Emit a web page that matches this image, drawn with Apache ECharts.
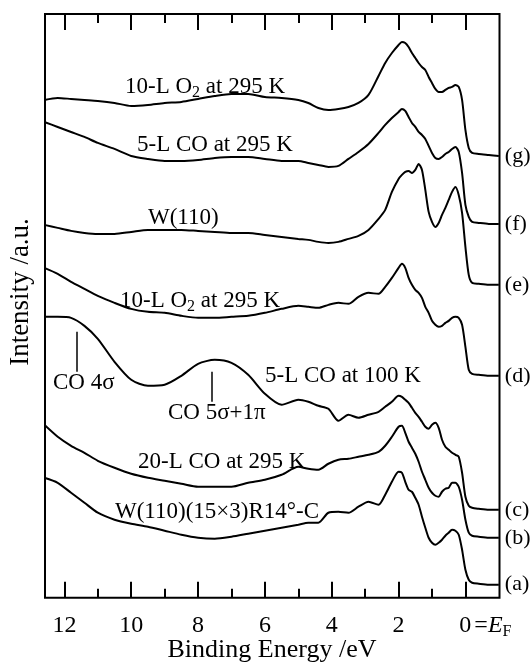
<!DOCTYPE html>
<html>
<head>
<meta charset="utf-8">
<script src="https://cdn.jsdelivr.net/npm/echarts@6/dist/echarts.min.js"></script>
<style>
  html, body { margin: 0; padding: 0; background: #fff; }
  #chart { width: 532px; height: 665px; }
</style>
</head>
<body>
<div id="chart"></div>
<script>
// binding energy (eV), shared by all spectra
var energy = [12.6, 12.2, 11.8, 11.4, 11.0, 10.5, 10.0, 9.5, 9.0, 8.5, 8.0, 7.5, 7.0, 6.5, 6.0, 5.5, 5.0,
    4.7, 4.4, 4.1, 3.8, 3.5, 3.2, 2.9, 2.6, 2.4, 2.2,
    2.0, 1.9, 1.8, 1.7, 1.6, 1.5, 1.4, 1.3, 1.2, 1.1, 1.0, 0.9, 0.8, 0.7, 0.6, 0.5, 0.4, 0.3, 0.2, 0.1, 0.0,
    -0.1, -0.2, -0.4, -0.7, -1.0];

// intensities (a.u., offset spectra)
var specG = [498, 500, 499, 498, 497, 495, 492, 493, 495, 496, 499, 502, 504, 504, 501, 500, 498,
    495, 490, 488, 489, 491, 495, 503, 522, 535, 545,
    553, 556, 555, 551, 545, 540, 535, 531, 528, 521, 515, 509, 506, 506, 508, 510, 511, 513, 511, 498, 468,
    450, 445, 444, 443, 442];
var specF = [476, 471, 466, 461, 455, 449, 442, 439, 437, 437, 438, 440, 441, 441, 439, 437, 437,
    435, 433, 431, 432, 439, 446, 454, 465, 473, 480,
    486, 489, 487, 481, 475, 471, 466, 463, 459, 452, 445, 440, 439, 441, 444, 446, 449, 451, 446, 425, 393,
    381, 376, 375, 374, 374];
var specE = [373, 370, 367, 365, 364, 364, 366, 368, 368, 368, 367, 366, 365, 365, 363, 361, 359,
    358, 356, 355, 356, 359, 362, 368, 379, 388, 406,
    419, 423, 426, 427, 425, 428, 434, 428, 408, 386, 376, 371, 375, 383, 390, 398, 406, 411, 403, 385, 351,
    323, 315, 314, 313, 313];
var specD = [330, 324, 316, 309, 302, 295, 289, 286, 285, 282, 280, 280, 281, 282, 285, 289, 292,
    291, 290, 293, 295, 294, 301, 305, 304, 311, 320,
    330, 334, 330, 320, 313, 308, 305, 300, 291, 285, 277, 273, 271, 272, 275, 277, 280, 281, 280, 273, 251,
    228, 224, 223, 222, 222];
var specC = [281, 281, 280, 272, 259, 236, 218, 212, 213, 222, 234, 238, 235, 223, 204, 193, 198,
    196, 192, 189, 177, 183, 180, 183, 186, 191, 196,
    202, 201, 198, 195, 190, 185, 181, 176, 171, 169, 173, 175, 170, 158, 151, 148, 145, 143, 141, 125, 101,
    92, 90, 89, 88, 88];
var specB = [173, 161, 152, 145, 137, 130, 124, 120, 117, 114, 111, 111, 111, 115, 118, 123, 131,
    129, 128, 134, 138, 139, 141, 143, 146, 152, 161,
    171, 172, 165, 156, 150, 144, 136, 126, 118, 110, 105, 102, 101, 106, 109, 110, 115, 115, 111, 98, 78,
    65, 62, 61, 60, 60];
var specA = [120, 115, 105, 95, 85, 78, 74, 71, 67, 63, 60, 59, 61, 64, 67, 70, 73,
    75, 75, 85, 86, 85, 91, 96, 93, 103, 116,
    126, 125, 116, 108, 106, 100, 93, 81, 70, 60, 55, 53, 55, 58, 62, 65, 68, 67, 63, 48, 28,
    18, 15, 14, 13, 13];

var spectra = [specG, specF, specE, specD, specC, specB, specA];
var curveTags = ['(g)', '(f)', '(e)', '(d)', '(c)', '(b)', '(a)'];

var majorTicks = [0, 2, 4, 6, 8, 10, 12];
var minorTicks = [1, 3, 5, 7, 9, 11];

var FONT = 'Liberation Serif';

document.addEventListener('DOMContentLoaded', function() {
    var chart = echarts.init(document.getElementById('chart'));

    function pairs(vals) {
        return energy.map(function(e, i) { return [e, vals[i]]; });
    }

    // 4 x axes: major/minor ticks on bottom and top
    function xAx(pos, ticks, len, withLabels) {
        var ax = {
            type: 'value', position: pos, inverse: true,
            min: -1.02, max: 12.58,
            axisLine: { show: false },
            splitLine: { show: false },
            axisTick: { show: true, inside: true, length: len, customValues: ticks,
                lineStyle: { color: '#000', width: 2 } },
            axisLabel: { show: false }
        };
        if (withLabels) {
            ax.axisLabel = {
                show: true, customValues: majorTicks, margin: 14,
                color: '#000', fontFamily: FONT, fontSize: 24,
                formatter: function(v) {
                    if (v === 0) return '{p|}{n|0}{q|=}{i|E}{s|F}';
                    return '{n|' + v + '}';
                },
                rich: {
                    p: { width: 40 },
                    n: { fontFamily: FONT, fontSize: 24, lineHeight: 28, color: '#000' },
                    q: { fontFamily: FONT, fontSize: 24, lineHeight: 28, color: '#000', padding: [0, 0, 0, 3] },
                    i: { fontFamily: FONT, fontSize: 24, lineHeight: 28, fontStyle: 'italic', color: '#000' },
                    s: { fontFamily: FONT, fontSize: 16, lineHeight: 16, verticalAlign: 'bottom', color: '#000' }
                }
            };
        }
        return ax;
    }

    var series = spectra.map(function(vals) {
        return {
            type: 'line',
            data: pairs(vals),
            xAxisIndex: 0, yAxisIndex: 0,
            showSymbol: false,
            smooth: 0.25,
            lineStyle: { color: '#000', width: 2 },
            animation: false,
            silent: true
        };
    });

    // peak markers on the 5-L CO at 100 K spectrum
    series[4].markLine = {
        symbol: 'none', silent: true, animation: false,
        label: { show: false },
        lineStyle: { color: '#000', width: 1.5, type: 'solid' },
        data: [
            [{ coord: [11.63, 226] }, { coord: [11.63, 266] }],
            [{ coord: [7.59, 196] }, { coord: [7.59, 226] }]
        ]
    };

    var notes = [
        { t: '{a|10-L O}{s|2}{a| at 295 K}', x: 125, y: 87 },
        { t: '{a|5-L CO at 295 K}', x: 137, y: 145 },
        { t: '{a|W(110)}', x: 148, y: 218 },
        { t: '{a|10-L O}{s|2}{a| at 295 K}', x: 120, y: 301 },
        { t: '{a|CO 4σ}', x: 53, y: 383 },
        { t: '{a|CO 5σ+1π}', x: 168, y: 413 },
        { t: '{a|5-L CO at 100 K}', x: 265, y: 376 },
        { t: '{a|20-L CO at 295 K}', x: 138, y: 462 },
        { t: '{a|W(110)(15×3)R14°-C}', x: 115, y: 512 }
    ];
    var graphics = notes.map(function(n) {
        return {
            type: 'text', x: n.x, y: n.y, silent: true,
            style: {
                text: n.t, align: 'left', verticalAlign: 'middle',
                rich: {
                    a: { fontFamily: FONT, fontSize: 23, lineHeight: 28, fill: '#000' },
                    s: { fontFamily: FONT, fontSize: 16, lineHeight: 16, verticalAlign: 'bottom', fill: '#000' }
                }
            }
        };
    });
    graphics.push({
        type: 'text', x: 21, y: 292, rotation: Math.PI / 2, silent: true,
        style: { text: 'Intensity /a.u.', align: 'center', verticalAlign: 'middle',
            fontFamily: FONT, fontSize: 27, fill: '#000' }
    });
    graphics.push({
        type: 'text', x: 272, y: 650, silent: true,
        style: { text: 'Binding Energy /eV', align: 'center', verticalAlign: 'middle',
            fontFamily: FONT, fontSize: 26, fill: '#000' }
    });

    var option = {
        backgroundColor: '#fff',
        animation: false,
        grid: { left: 45, right: 32.5, top: 14, bottom: 67.3, show: true, outerBoundsMode: 'none',
            borderColor: '#000', borderWidth: 2, backgroundColor: 'transparent' },
        xAxis: [
            xAx('bottom', majorTicks, 16, true),
            xAx('bottom', minorTicks, 9, false),
            xAx('top', majorTicks, 16, false),
            xAx('top', minorTicks, 9, false)
        ],
        yAxis: {
            type: 'value', min: 0, max: 584,
            axisLine: { show: false }, axisTick: { show: false },
            axisLabel: { show: false }, splitLine: { show: false }
        },
        graphic: graphics,
        series: series
    };

    chart.setOption(option);

    // curve tags at the right end of each spectrum
    var last = energy.length - 1;
    var tags = spectra.map(function(vals, k) {
        var p = chart.convertToPixel({ xAxisIndex: 0, yAxisIndex: 0 }, [energy[last], vals[last]]);
        return {
            type: 'text', x: p[0] + 6, y: p[1], silent: true,
            style: { text: curveTags[k], align: 'left', verticalAlign: 'middle',
                fontFamily: FONT, fontSize: 22, fill: '#000' }
        };
    });
    chart.setOption({ graphic: graphics.concat(tags) });
});
</script>
</body>
</html>
